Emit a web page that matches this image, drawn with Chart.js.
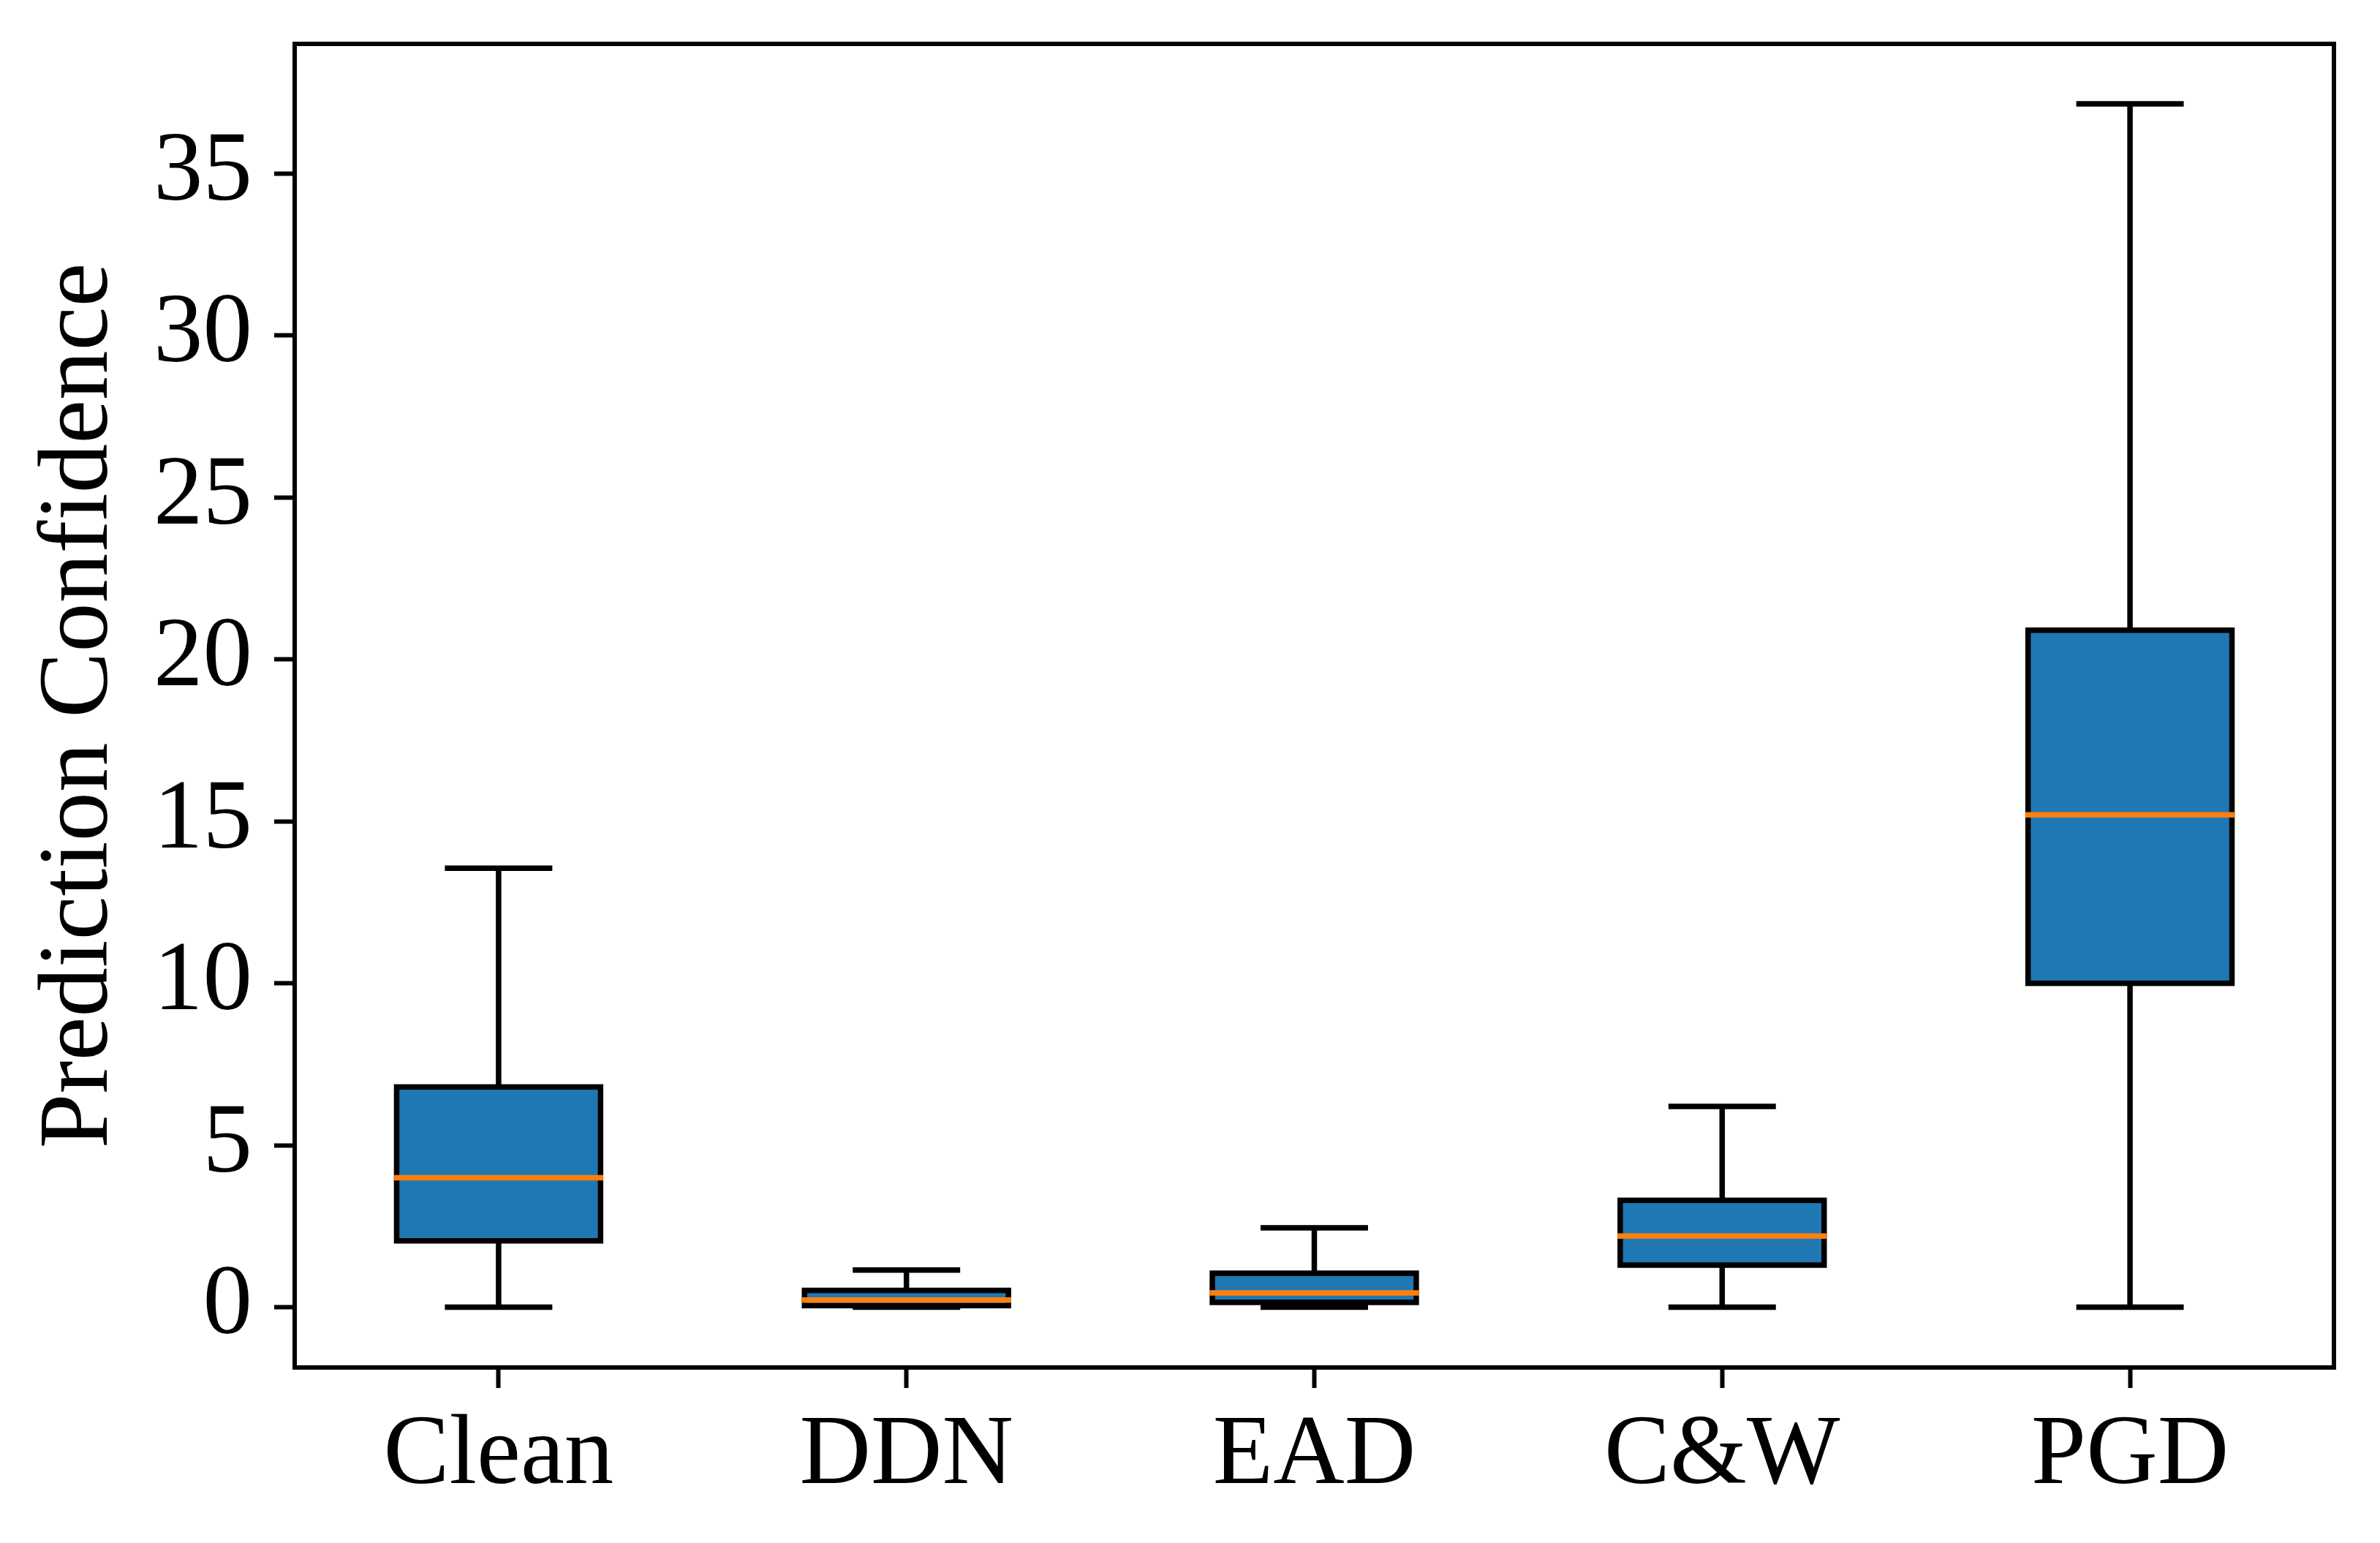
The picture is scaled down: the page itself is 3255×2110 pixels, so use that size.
<!DOCTYPE html>
<html>
<head>
<meta charset="utf-8">
<script src="https://cdn.jsdelivr.net/npm/chart.js@4.4.1/dist/chart.umd.min.js"></script>
<style>
  html, body { margin: 0; padding: 0; background: #fff; }
  #wrap { width: 3255px; height: 2110px; }
</style>
</head>
<body>
<div id="wrap"><canvas id="boxChart"></canvas></div>
<script>
// box plot stats
const categories = ["Clean", "DDN", "EAD", "C&W", "PGD"];
const whiskerLow = [0, 0, 0, 0, 0];
const q1 = [2.05, 0.05, 0.15, 1.3, 10.0];
const medians = [4.0, 0.22, 0.44, 2.2, 15.2];
const q3 = [6.8, 0.52, 1.05, 3.3, 20.9];
const whiskerHigh = [13.55, 1.15, 2.45, 6.2, 37.15];
const yTicks = [0, 5, 10, 15, 20, 25, 30, 35];

const FONT = "'Liberation Serif', 'Times New Roman', serif";
const LW = 7.5;

const boxPlugin = {
  id: "boxParts",
  afterDatasetsDraw(chart) {
    const ctx = chart.ctx;
    const x = chart.scales.x;
    const y = chart.scales.y;
    const step = x.getPixelForValue(1) - x.getPixelForValue(0);
    const half = step * 0.25;
    const capHalf = half / 2;
    ctx.save();
    ctx.lineWidth = LW;
    for (let i = 0; i < categories.length; i++) {
      const cx = x.getPixelForValue(i);
      const yLo = y.getPixelForValue(whiskerLow[i]);
      const yQ1 = y.getPixelForValue(q1[i]);
      const yQ3 = y.getPixelForValue(q3[i]);
      const yHi = y.getPixelForValue(whiskerHigh[i]);
      const yMed = y.getPixelForValue(medians[i]);

      ctx.strokeStyle = "#000";
      // whiskers
      ctx.lineCap = "butt";
      ctx.beginPath();
      ctx.moveTo(cx, yQ1); ctx.lineTo(cx, yLo);
      ctx.moveTo(cx, yQ3); ctx.lineTo(cx, yHi);
      ctx.stroke();
      // caps
      ctx.lineCap = "square";
      ctx.beginPath();
      ctx.moveTo(cx - capHalf, yLo); ctx.lineTo(cx + capHalf, yLo);
      ctx.moveTo(cx - capHalf, yHi); ctx.lineTo(cx + capHalf, yHi);
      ctx.stroke();
      // box outline
      ctx.lineJoin = "miter";
      ctx.strokeRect(cx - half, yQ3, half * 2, yQ1 - yQ3);
      // median
      ctx.strokeStyle = "#ff7f0e";
      ctx.lineCap = "butt";
      ctx.beginPath();
      ctx.moveTo(cx - half - LW / 2, yMed); ctx.lineTo(cx + half + LW / 2, yMed);
      ctx.stroke();
    }
    // frame
    const a = chart.chartArea;
    ctx.strokeStyle = "#000";
    ctx.lineWidth = 6;
    ctx.strokeRect(a.left, a.top, a.right - a.left, a.bottom - a.top);
    ctx.restore();
  }
};

new Chart(document.getElementById("boxChart"), {
  type: "bar",
  data: {
    labels: categories,
    datasets: [{
      data: categories.map((c, i) => [q1[i], q3[i]]),
      backgroundColor: "#1f77b4",
      borderWidth: 0,
      categoryPercentage: 1.0,
      barPercentage: 0.5
    }]
  },
  options: {
    responsive: true,
    maintainAspectRatio: false,
    animation: false,
    events: [],
    layout: { padding: { left: 0, top: 60, right: 63, bottom: 0 } },
    plugins: {
      legend: { display: false },
      tooltip: { enabled: false }
    },
    scales: {
      x: {
        offset: true,
        grid: {
          offset: false,
          drawOnChartArea: false,
          drawTicks: true,
          tickLength: 28,
          tickWidth: 6,
          tickColor: "#000"
        },
        border: { display: true, color: "#000", width: 6 },
        ticks: {
          color: "#000",
          padding: 14,
          font: { family: FONT, size: 135 }
        },
        afterFit(scale) {
          scale.height = 240;
          scale.paddingLeft = 0;
          scale.paddingRight = 0;
        }
      },
      y: {
        min: -1.86,
        max: 39.0,
        afterBuildTicks(axis) {
          axis.ticks = yTicks.map(v => ({ value: v }));
        },
        grid: {
          drawOnChartArea: false,
          drawTicks: true,
          tickLength: 28,
          tickWidth: 6,
          tickColor: "#000"
        },
        border: { display: true, color: "#000", width: 6 },
        ticks: {
          color: "#000",
          padding: 30,
          font: { family: FONT, size: 135 }
        },
        title: {
          display: true,
          text: "Prediction Confidence",
          color: "#000",
          padding: { top: 30, bottom: 0 },
          font: { family: FONT, size: 135 }
        },
        afterFit(scale) {
          scale.width = 403;
          scale.paddingTop = 0;
          scale.paddingBottom = 0;
        }
      }
    }
  },
  plugins: [boxPlugin]
});
</script>
</body>
</html>
